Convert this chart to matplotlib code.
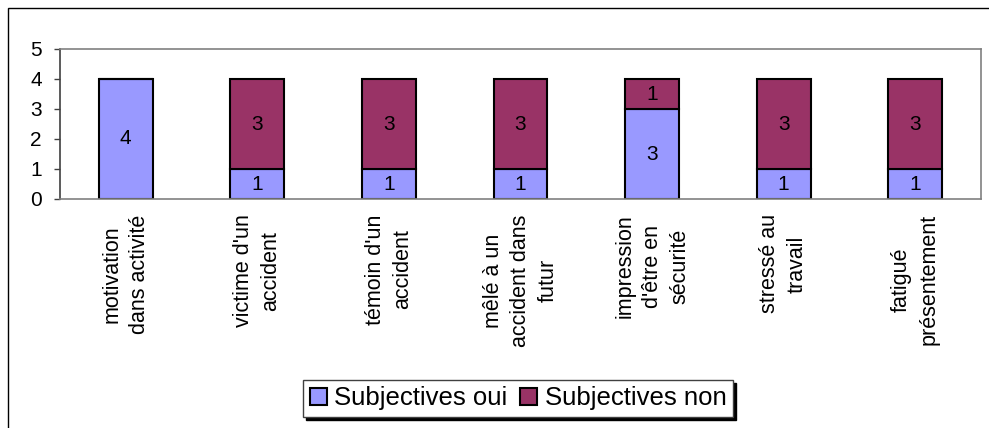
import numpy as np
import matplotlib
matplotlib.use("Agg")
import matplotlib.pyplot as plt
from matplotlib.patches import Rectangle

plt.rcParams["font.family"] = ["Liberation Sans", "DejaVu Sans"]

categories = [
    "motivation\ndans activité",
    "victime d'un\naccident",
    "témoin d'un\naccident",
    "mêlé à un\naccident dans\nfutur",
    "impression\nd'être en\nsécurité",
    "stressé au\ntravail",
    "fatigué\nprésentement",
]
oui = [4, 1, 1, 1, 3, 1, 1]
non = [0, 3, 3, 3, 1, 3, 3]
yticks = [0, 1, 2, 3, 4, 5]

BLUE = "#9999FF"
MAROON = "#993366"

fig = plt.figure(figsize=(9.89, 4.28), dpi=100)
ax = fig.add_axes([60 / 989, 1 - 199 / 428, 921 / 989, 150 / 428])

x = np.arange(len(categories))
b1 = ax.bar(x, oui, width=0.41, color=BLUE, edgecolor="black", linewidth=1.5,
            label="Subjectives oui")
b2 = ax.bar(x, non, width=0.41, bottom=oui, color=MAROON, edgecolor="black",
            linewidth=1.5, label="Subjectives non")

for i in range(len(categories)):
    if oui[i]:
        ax.text(x[i], oui[i] / 2, str(oui[i]), ha="center", va="center", fontsize=15)
    if non[i]:
        ax.text(x[i], oui[i] + non[i] / 2, str(non[i]), ha="center", va="center",
                fontsize=15)

ax.set_xlim(-0.5, len(categories) - 0.5)
ax.set_ylim(0, 5)
ax.set_yticks(yticks)
ax.tick_params(axis="y", labelsize=15, length=4, width=1, pad=9,
               color="#404040")
ax.set_xticks(x)
ax.set_xticklabels(categories, rotation=90, fontsize=15.5, ha="center",
                   va="top", multialignment="center", linespacing=1.4)
ax.tick_params(axis="x", length=0, pad=11)

for s in ["top", "right", "bottom"]:
    ax.spines[s].set_color("#808080")
    ax.spines[s].set_linewidth(1.2)
ax.spines["left"].set_color("#404040")
ax.spines["left"].set_linewidth(1.2)

leg = fig.legend(handles=[b1, b2], loc="center", bbox_to_anchor=(0.524, 0.069),
                 ncol=2, fontsize=18.5, frameon=True, fancybox=False,
                 handlelength=0.65, handleheight=0.65, handletextpad=0.3,
                 columnspacing=0.5, borderpad=0.25,
                 shadow={"facecolor": "black", "edgecolor": "black", "alpha": 1})
leg.get_frame().set_edgecolor("#404040")
leg.get_frame().set_linewidth(1)

fig.patches.append(Rectangle((8 / 989, -0.1), 1.2, 1 - 8 / 428 + 0.1,
                             transform=fig.transFigure, fill=False,
                             edgecolor="black", linewidth=1))

fig.savefig("out.png", dpi=100)
